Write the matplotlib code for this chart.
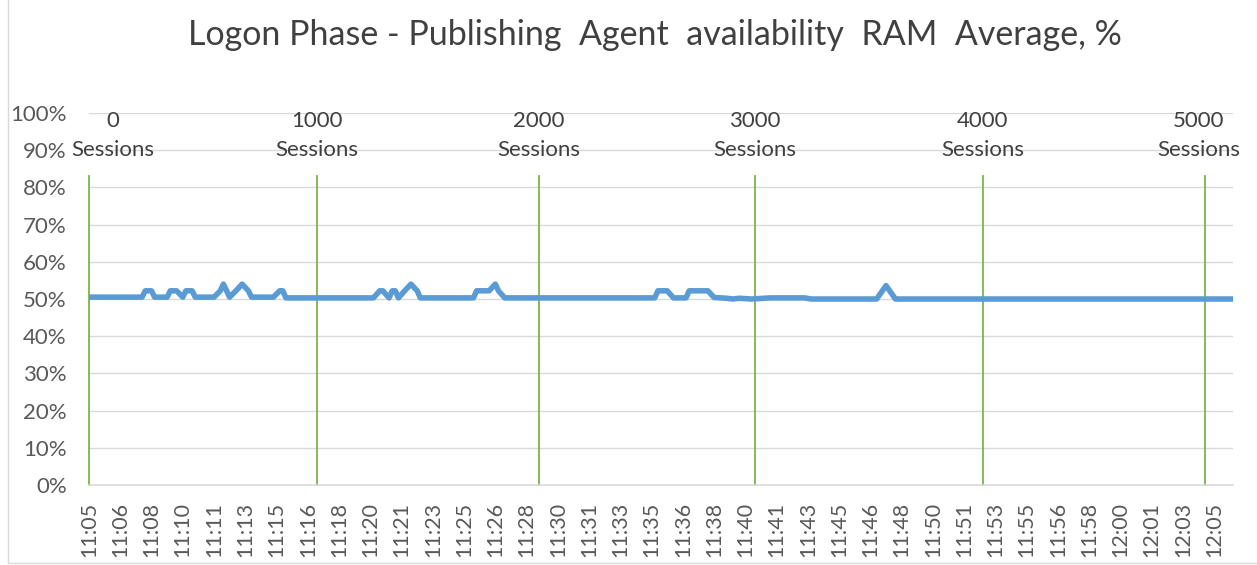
import numpy as np
import matplotlib
matplotlib.use('Agg')
import matplotlib.pyplot as plt
from matplotlib.lines import Line2D

plt.rcParams['font.family'] = ['Lato', 'DejaVu Sans']

# sample index (10 s steps from 11:05:00) and RAM availability, %
sample_idx = [0, 17, 18, 20, 21, 25, 26, 28, 30, 31, 33, 34, 40, 42, 43, 45, 47, 49,
              51, 52, 59, 61, 62, 63, 91, 93, 94, 96, 97, 98, 99, 101, 103, 105, 106,
              123, 124, 128, 130, 131, 133, 181, 182, 185, 187, 191, 192, 198, 200,
              204, 206, 208, 212, 218, 229, 231, 252, 255, 258, 366]
ram_avail = [50.5, 50.5, 52.2, 52.2, 50.5, 50.5, 52.2, 52.2, 50.5, 52.2, 52.2, 50.5,
             50.5, 52.2, 54.0, 50.5, 52.2, 54.0, 52.2, 50.5, 50.5, 52.2, 52.2, 50.3,
             50.3, 52.2, 52.2, 50.3, 52.2, 52.2, 50.3, 52.2, 54.0, 52.2, 50.3,
             50.3, 52.2, 52.2, 54.0, 52.2, 50.3, 50.3, 52.2, 52.2, 50.3, 50.3, 52.2,
             52.2, 50.4, 50.2, 50.0, 50.2, 50.0, 50.3, 50.3, 50.0, 50.0, 53.6, 50.0, 50.0]

# session milestones (sample index where each count was reached)
session_idx = [0, 73, 144, 213, 286, 357]
session_counts = ['0', '1000', '2000', '3000', '4000', '5000']
session_top = 83

tick_labels = ['11:05', '11:06', '11:08', '11:10', '11:11', '11:13', '11:15', '11:16',
               '11:18', '11:20', '11:21', '11:23', '11:25', '11:26', '11:28', '11:30',
               '11:31', '11:33', '11:35', '11:36', '11:38', '11:40', '11:41', '11:43',
               '11:45', '11:46', '11:48', '11:50', '11:51', '11:53', '11:55', '11:56',
               '11:58', '12:00', '12:01', '12:03', '12:05']

txt = '#595959'
grid = '#d9d9d9'

fig = plt.figure(figsize=(12.57, 5.65), dpi=100)
ax = fig.add_axes([89 / 1257, 1 - 485 / 565, (1233 - 89) / 1257, (485 - 113) / 565])

for y in range(10, 101, 10):
    ax.axhline(y, color=grid, lw=1, zorder=0)

for i, (sx, lab) in enumerate(zip(session_idx, session_counts)):
    ax.plot([sx, sx], [0, session_top], color='#7ab648', lw=1.3, zorder=1, clip_on=False)
    tx = sx + 7.5 if i == 0 else sx - 2 if i == len(session_idx) - 1 else sx
    ax.text(tx, 94.0, lab + '\nSessions', ha='center', va='center', fontsize=16,
            color='#404040', linespacing=1.55, zorder=3)

ax.plot(sample_idx, ram_avail, color='#5b9bd5', lw=4.0, solid_capstyle='round',
        solid_joinstyle='round', zorder=2)

ax.set_xlim(0, 366)
ax.set_ylim(0, 100)
ax.set_yticks(range(0, 101, 10))
ax.set_yticklabels(['%d%%' % v for v in range(0, 101, 10)])
ax.set_xticks(np.arange(len(tick_labels)) * 10)
ax.set_xticklabels(tick_labels, rotation=90)
ax.tick_params(axis='both', length=0, colors=txt, labelsize=15.5)
ax.tick_params(axis='y', labelsize=16, pad=16)
ax.tick_params(axis='x', pad=12)
for s in ['top', 'right', 'left']:
    ax.spines[s].set_visible(False)
ax.spines['bottom'].set_color(grid)
ax.spines['bottom'].set_linewidth(1.2)

fig.text(0.521, 1 - 35 / 565, 'Logon Phase - Publishing  Agent  availability  RAM  Average, %',
         ha='center', va='center', fontsize=24.5, color='#404040')

fig.add_artist(Line2D([8 / 1257, 8 / 1257], [2 / 565, 1], color=grid, lw=1))
fig.add_artist(Line2D([8 / 1257, 1], [2 / 565, 2 / 565], color=grid, lw=1))

fig.savefig('out.png', dpi=100)
